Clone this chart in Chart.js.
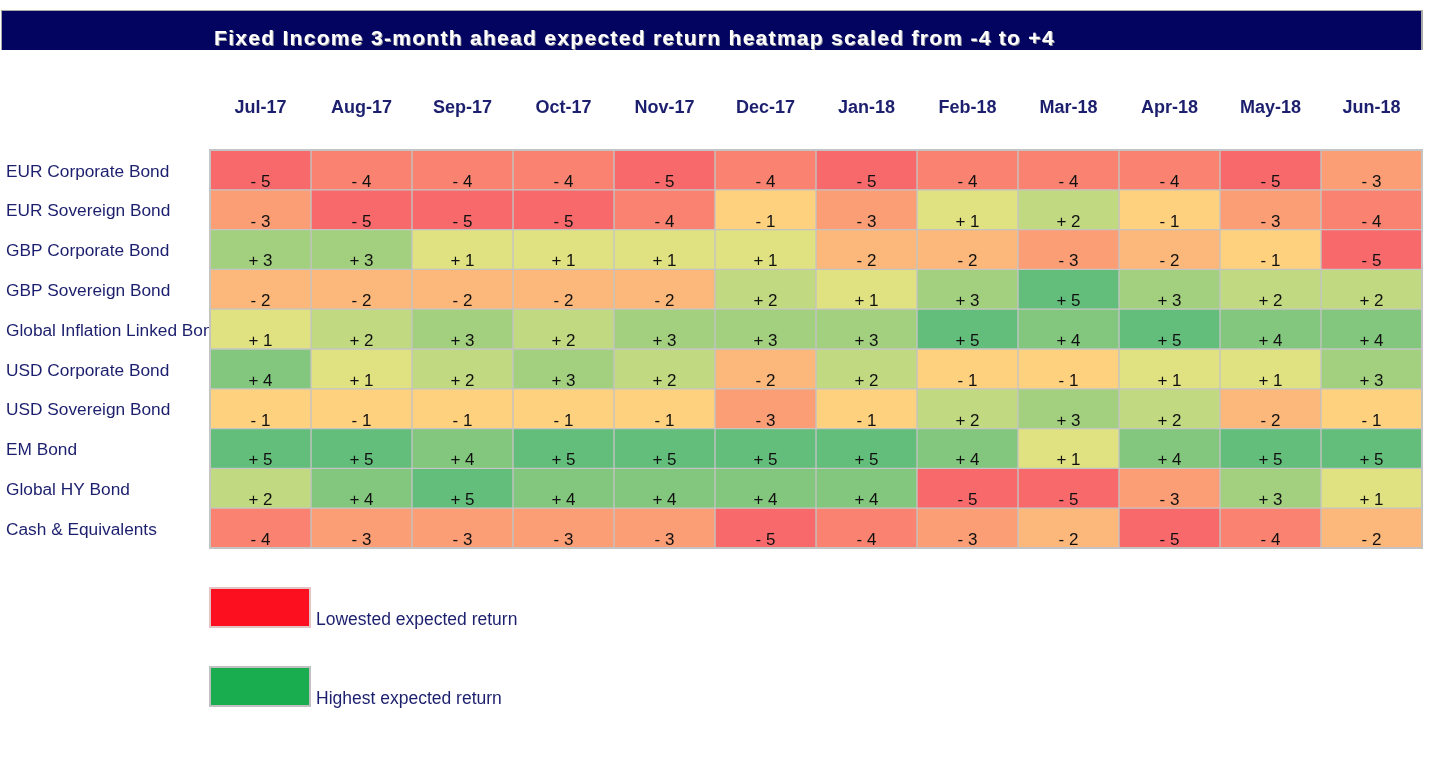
<!DOCTYPE html>
<html><head><meta charset="utf-8">
<script src="https://cdn.jsdelivr.net/npm/chart.js@4.4.1/dist/chart.umd.min.js"></script>
<style>html,body{margin:0;padding:0;background:#fff;overflow:hidden}canvas{display:block}</style>
</head><body>
<canvas id="c" width="1438" height="760"></canvas>
<script>
// ---- data ----
const titleText = 'Fixed Income 3-month ahead expected return heatmap scaled from -4 to +4';
const months = ['Jul-17','Aug-17','Sep-17','Oct-17','Nov-17','Dec-17','Jan-18','Feb-18','Mar-18','Apr-18','May-18','Jun-18'];
const assets = ['EUR Corporate Bond','EUR Sovereign Bond','GBP Corporate Bond','GBP Sovereign Bond','Global Inflation Linked Bond','USD Corporate Bond','USD Sovereign Bond','EM Bond','Global HY Bond','Cash & Equivalents'];
const eurCorporate   = [-5,-4,-4,-4,-5,-4,-5,-4,-4,-4,-5,-3];
const eurSovereign   = [-3,-5,-5,-5,-4,-1,-3, 1, 2,-1,-3,-4];
const gbpCorporate   = [ 3, 3, 1, 1, 1, 1,-2,-2,-3,-2,-1,-5];
const gbpSovereign   = [-2,-2,-2,-2,-2, 2, 1, 3, 5, 3, 2, 2];
const globalInflation= [ 1, 2, 3, 2, 3, 3, 3, 5, 4, 5, 4, 4];
const usdCorporate   = [ 4, 1, 2, 3, 2,-2, 2,-1,-1, 1, 1, 3];
const usdSovereign   = [-1,-1,-1,-1,-1,-3,-1, 2, 3, 2,-2,-1];
const emBond         = [ 5, 5, 4, 5, 5, 5, 5, 4, 1, 4, 5, 5];
const globalHY       = [ 2, 4, 5, 4, 4, 4, 4,-5,-5,-3, 3, 1];
const cashEquiv      = [-4,-3,-3,-3,-3,-5,-4,-3,-2,-5,-4,-2];
const scores = [eurCorporate, eurSovereign, gbpCorporate, gbpSovereign, globalInflation, usdCorporate, usdSovereign, emBond, globalHY, cashEquiv];
const legendLabels = ['Lowested expected return', 'Highest expected return'];

// ---- styles ----
const FONT = '"Liberation Sans", Arial, sans-serif';
const NAVY = '#1c1f6e';
const scaleColors = {
  '-5':'#F8696B','-4':'#F98370','-3':'#FB9D75','-2':'#FCB77A','-1':'#FED17F',
  '1':'#E0E282','2':'#C1D980','3':'#A2D07F','4':'#82C77D','5':'#63BE7B'
};
const legendColors = ['#fc101f', '#1aad50'];
const fmt = v => (v > 0 ? '+ ' : '- ') + Math.abs(v);

const datasets = months.map((m, ci) => ({
  label: m,
  data: assets.map(() => 1),
  backgroundColor: scores.map(r => scaleColors[String(r[ci])]),
  borderColor: '#c4c4c4',
  borderWidth: 1,
  borderSkipped: false,
  barPercentage: 1,
  categoryPercentage: 1
}));

const decor = {
  id: 'decor',
  beforeDraw(chart) {
    const ctx = chart.ctx;
    ctx.save();
    ctx.fillStyle = '#fff';
    ctx.fillRect(0, 0, chart.width, chart.height);
    // title bar
    ctx.fillStyle = '#a8a8a8';
    ctx.fillRect(1, 10, 1422, 40);
    ctx.fillStyle = '#02045f';
    ctx.fillRect(2, 11, 1419, 39);
    ctx.font = 'bold 21px ' + FONT;
    if ('letterSpacing' in ctx) ctx.letterSpacing = '1.3px';
    ctx.textBaseline = 'alphabetic';
    ctx.textAlign = 'left';
    ctx.shadowColor = 'rgba(170,170,170,0.9)';
    ctx.shadowOffsetX = 1; ctx.shadowOffsetY = 1;
    ctx.fillStyle = '#ffffff';
    ctx.fillText(titleText, 214, 45);
    ctx.restore();
    // legend
    ctx.save();
    const boxes = [[587, '#e2c4c4'], [666, '#c0c0c0']];
    boxes.forEach(([y, bc], i) => {
      ctx.fillStyle = bc;
      ctx.fillRect(209, y, 102, 41);
      ctx.fillStyle = legendColors[i];
      ctx.fillRect(211, y + 2, 98, 37);
      ctx.font = '17.5px ' + FONT;
      ctx.fillStyle = NAVY;
      ctx.textBaseline = 'alphabetic';
      ctx.textAlign = 'left';
      ctx.fillText(legendLabels[i], 316, y + 38);
    });
    ctx.restore();
  },
  afterDatasetsDraw(chart) {
    const ctx = chart.ctx;
    ctx.save();
    ctx.font = '17px ' + FONT;
    ctx.fillStyle = '#111';
    ctx.textAlign = 'center';
    ctx.textBaseline = 'alphabetic';
    chart.data.datasets.forEach((ds, ci) => {
      chart.getDatasetMeta(ci).data.forEach((el, ri) => {
        const cx = (el.x + el.base) / 2;
        ctx.fillText(fmt(scores[ri][ci]), cx, el.y + el.height / 2 - 3);
      });
    });
    const a = chart.chartArea;
    ctx.strokeStyle = '#c4c4c4';
    ctx.lineWidth = 2;
    ctx.strokeRect(a.left, a.top, a.right - a.left, a.bottom - a.top);
    ctx.restore();
  }
};

new Chart(document.getElementById('c'), {
  type: 'bar',
  data: { labels: assets, datasets },
  options: {
    indexAxis: 'y',
    responsive: false,
    animation: false,
    devicePixelRatio: 1,
    layout: { padding: { left: 6, top: 0, right: 16, bottom: 212 } },
    plugins: { legend: { display: false }, tooltip: { enabled: false }, title: { display: false } },
    scales: {
      x: {
        type: 'linear', position: 'top', stacked: true, min: 0, max: months.length,
        afterBuildTicks: s => { s.ticks = months.map((m, i) => ({ value: i + 0.5 })); },
        afterFit: s => { s.height = 150; },
        grid: { display: false, drawTicks: false },
        border: { display: false },
        ticks: {
          autoSkip: false, maxRotation: 0, padding: 31,
          color: NAVY, font: { family: FONT, size: 18, weight: 'bold' },
          callback: (v, i) => months[i]
        }
      },
      y: {
        type: 'category', stacked: true, offset: true,
        afterFit: s => { s.width = 204; },
        grid: { display: false, drawTicks: false },
        border: { display: false },
        ticks: {
          crossAlign: 'far', labelOffset: 2, padding: 0, autoSkip: false,
          color: NAVY, font: { family: FONT, size: 17.3 }
        }
      }
    }
  },
  plugins: [decor]
});
</script>
</body></html>
